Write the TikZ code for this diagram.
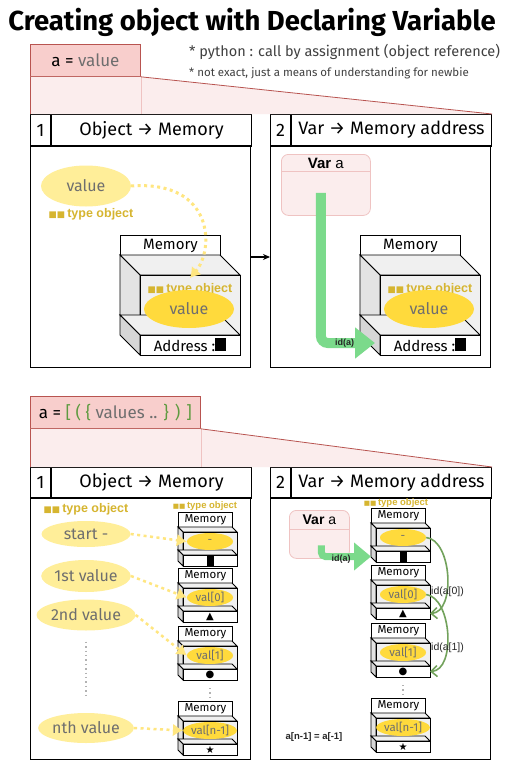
\documentclass[tikz,border=0pt]{standalone}
\usepackage{fontspec}
\setmainfont{Fira Sans}
\newfontfamily\arialfont{Liberation Sans}
\newfontfamily\symfont{DejaVu Sans}
\usetikzlibrary{positioning,calc,arrows.meta,shapes.geometric}

\definecolor{pinkfill}{HTML}{F8CECC}
\definecolor{pinkline}{HTML}{B85450}
\definecolor{pinklight}{HTML}{FBEDED}
\definecolor{pinkedge}{HTML}{EFC3C2}
\definecolor{yelpale}{HTML}{FFEE99}
\definecolor{yeldeep}{HTML}{FFDA3C}
\definecolor{yelflow}{HTML}{FFE680}
\definecolor{goldtext}{HTML}{D6B530}
\definecolor{valgray}{HTML}{6E6E6E}
\definecolor{idgreen}{HTML}{7BDA8B}
\definecolor{refgreen}{HTML}{72A25C}
\definecolor{codegreen}{HTML}{5E9A40}
\definecolor{memtop}{HTML}{F0F0F0}
\definecolor{memside}{HTML}{E3E3E3}
\definecolor{memdark}{HTML}{D6D6D6}

\newcommand{\fs}[1]{\fontsize{#1}{#1}\selectfont}
\newcommand{\TypeTag}{\scalebox{0.7}{\symfont ■■}\,type object}

% memory drawer: name, x, y (label top left), width, depth, label h, drawer h, base h, font size
\newcommand{\MemBlock}[9]{%
	\pgfmathsetmacro\mbA{#3+#6}%
	\pgfmathsetmacro\mbB{\mbA+#5}%
	\pgfmathsetmacro\mbC{\mbA+#7}%
	\pgfmathsetmacro\mbD{\mbC+#5}%
	\pgfmathsetmacro\mbE{\mbD+#8}%
	\pgfmathsetmacro\mbL{#2+#5}%
	\pgfmathsetmacro\mbR{#2+#4}%
	\pgfmathsetmacro\mbF{\mbL+#4}%
	\node[memlabel, font=\fs{#9}, minimum width=#4pt, minimum height=#6pt, anchor=north west] (#1-lbl) at (#2,#3) {Memory};
	\filldraw[memline, fill=memtop] (#2,\mbA) -- (\mbR,\mbA) -- (\mbF,\mbB) -- (\mbL,\mbB) -- cycle;
	\filldraw[memline, fill=memside] (#2,\mbA) -- (\mbL,\mbB) -- (\mbL,\mbD) -- (#2,\mbC) -- cycle;
	\filldraw[memline, fill=memtop] (\mbL,\mbB) rectangle (\mbF,\mbD);
	\filldraw[memline, fill=memtop] (#2,\mbC) -- (\mbR,\mbC) -- (\mbF,\mbD) -- (\mbL,\mbD) -- cycle;
	\filldraw[memline, fill=memdark] (#2,\mbC) -- (\mbL,\mbD) -- (\mbL,\mbE) -- (#2,{\mbC+#8}) -- cycle;
	\filldraw[memline, fill=white] (\mbL,\mbD) rectangle (\mbF,\mbE);
	\coordinate (#1-box) at ({(\mbL+\mbF)/2},{(\mbB+\mbD)/2});
	\coordinate (#1-base) at ({(\mbL+\mbF)/2},{(\mbD+\mbE)/2});
	\coordinate (#1-basew) at (\mbL,{(\mbD+\mbE)/2});
	\coordinate (#1-basee) at (\mbF,{(\mbD+\mbE)/2});
	\coordinate (#1-bot) at ({(\mbL+\mbF)/2},\mbE);
}

\tikzset{
	headcell/.style={draw, line width=1pt, fill=white, minimum height=31pt, inner sep=0pt, font=\fs{18}},
	panel/.style={draw, line width=1pt, fill=white, minimum width=220pt, inner sep=0pt},
	codebox/.style={draw=pinkline, fill=pinkfill, line width=0.8pt, inner sep=0pt, font=\fs{17}},
	paleval/.style={ellipse, fill=yelpale, inner sep=0pt, text=valgray, font=\fs{16}},
	deepval/.style={ellipse, fill=yeldeep, inner sep=0pt, text=valgray, font=\fs{16}},
	typetag/.style={text=goldtext, inner sep=0pt, font=\arialfont\bfseries\fs{12.5}},
	memlabel/.style={draw, line width=0.9pt, fill=white, inner sep=0pt},
	memline/.style={draw=black, line width=0.9pt},
	varbox/.style={draw=pinkedge, fill=pinklight, rounded corners=7pt, line width=0.8pt, inner sep=0pt},
	yflow/.style={draw=yelflow, line width=3pt, dash pattern=on 3pt off 3.5pt, -{Latex[length=10pt,width=13pt]}},
	idflow/.style={draw=idgreen, line width=10pt, rounded corners=7pt, -{Triangle[length=20pt,width=30pt]}},
	refflow/.style={draw=refgreen, line width=1.6pt, -{Straight Barb[length=6pt,width=11pt]}},
	idlabel/.style={inner sep=0pt, text=black!85, font=\arialfont\bfseries\fs{9}},
	vdots/.style={draw=gray!60, line width=1.4pt, dash pattern=on 1.4pt off 3pt},
	small/.style={font=\symfont\fs{10}, inner sep=0pt}
}

\begin{document}
\begin{tikzpicture}[x=1pt, y=-1pt]
	\useasboundingbox (0,0) rectangle (521,760);
	\fill[white] (0,0) rectangle (521,760);

	% Title and notes
	\node[font=\bfseries\fs{27.5}] (ttl) at (252,22) {Creating object with Declaring Variable};
	\node[anchor=west, inner sep=0pt, text=black!75, font=\fs{14.5}] (n1) at (189,52) {* python : call by assignment (object reference)};
	\node[anchor=west, inner sep=0pt, text=black!75, font=\fs{11.5}] (n2) at (189,73) {* not exact, just a means of understanding for newbie};

	% Define nodes : top part
	\node[codebox, minimum width=110pt, minimum height=32pt, anchor=north west] (ca) at (30,44) {a = {\color{valgray}value}};
	\node[headcell, minimum width=20pt, anchor=north west] (t1n) at (30,114) {1};
	\node[headcell, minimum width=200pt, anchor=north west] (t1h) at (t1n.north east) {Object → Memory};
	\node[headcell, minimum width=20pt, anchor=north west] (t2n) at (270,114) {2};
	\node[headcell, minimum width=200pt, anchor=north west] (t2h) at (t2n.north east) {Var → Memory address};

	\fill[pinklight] (ca.south west) -- (ca.south east) -- (t2h.north east) -- (t1n.north west) -- cycle;
	\draw[pinkedge] (ca.south east) -- (ca.south east |- t1n.north);
	\draw[pinkline, line width=0.8pt] (ca.south west) -- (t1n.north west);
	\draw[pinkline, line width=0.8pt] (ca.south east) -- (t2h.north east);

	\node[panel, minimum height=221pt, anchor=north west] (t1b) at (t1n.south west) {};
	\node[panel, minimum height=221pt, anchor=north west] (t2b) at (t2n.south west) {};
	\draw[line width=1.8pt] (t1n.south west) -- (t1h.south east);
	\draw[line width=1.8pt] (t2n.south west) -- (t2h.south east);

	% panel 1
	\node[paleval, minimum width=90pt, minimum height=41pt] (v) at (86,186) {value};
	\node[typetag] (vt) at (91,214) {\TypeTag};
	\MemBlock{m}{120}{235}{100}{20}{20}{60}{20}{15}
	\node[typetag] (mt) at (190,289) {\TypeTag};
	\node[deepval, minimum width=90pt, minimum height=38pt] (mv) at (189,309) {value};
	\node[inner sep=0pt, font=\fs{15}] (ma) at (m-base) {Address :\rule{11pt}{13pt}};

	% panel 2
	\node[varbox, minimum width=89pt, minimum height=61pt, anchor=north west] (va) at (281,154) {};
	\draw[pinkedge, line width=0.8pt] ($(va.north west)+(0,17)$) -- ($(va.north east)+(0,17)$);
	\node[inner sep=0pt, font=\arialfont\fs{15}] (vat) at ($(va.north)+(0,9)$) {\textbf{Var} a};
	\MemBlock{mm}{360}{235}{100}{20}{20}{60}{20}{15}
	\node[typetag] (mmt) at (430,289) {\TypeTag};
	\node[deepval, minimum width=90pt, minimum height=38pt] (mmv) at (429,309) {value};
	\node[inner sep=0pt, font=\fs{15}] (mma) at (mm-base) {Address :\rule{11pt}{13pt}};

	% Connect the nodes
	\draw[yflow] (v.east) .. controls (215,180) and (214,250) .. ($(mt.north)+(0,-5)$);
	\draw[-{Stealth[length=7pt,width=6pt]}, line width=1.4pt] (t1b.east) -- (t2b.west);
	\draw[idflow] ($(va.center)+(-5,8)$) |- ($(mm-basew)+(-5,-2)$) node[idlabel, pos=0.72] {id(a)};

	% Define nodes : bottom part
	\node[codebox, minimum width=170pt, minimum height=32pt, anchor=north west] (cb) at (30,396)
		{a = {\color{codegreen}[ ( \{} {\color{valgray}values ..} {\color{codegreen}\} ) ]}};
	\node[headcell, minimum width=20pt, minimum height=30pt, anchor=north west] (b1n) at (30,467) {1};
	\node[headcell, minimum width=200pt, minimum height=30pt, anchor=north west] (b1h) at (b1n.north east) {Object → Memory};
	\node[headcell, minimum width=20pt, minimum height=30pt, anchor=north west] (b2n) at (270,467) {2};
	\node[headcell, minimum width=200pt, minimum height=30pt, anchor=north west] (b2h) at (b2n.north east) {Var → Memory address};

	\fill[pinklight] (cb.south west) -- (cb.south east) -- (b2h.north east) -- (b1n.north west) -- cycle;
	\draw[pinkedge] (cb.south east) -- (cb.south east |- b1n.north);
	\draw[pinkline, line width=0.8pt] (cb.south west) -- (b1n.north west);
	\draw[pinkline, line width=0.8pt] (cb.south east) -- (b2h.north east);

	\node[panel, minimum height=261pt, anchor=north west] (b1b) at (b1n.south west) {};
	\node[panel, minimum height=261pt, anchor=north west] (b2b) at (b2n.south west) {};
	\draw[line width=1.8pt] (b1n.south west) -- (b1h.south east);
	\draw[line width=1.8pt] (b2n.south west) -- (b2h.south east);

	% panel 1
	\node[typetag] (st) at (86,509) {\TypeTag};
	\node[paleval, minimum width=89pt, minimum height=26pt] (s0) at (86,534) {start -};
	\node[paleval, minimum width=89pt, minimum height=32pt] (s1) at (86,576) {1st value};
	\node[paleval, minimum width=89pt, minimum height=31pt] (s2) at (86,615) {2nd value};
	\node[paleval, minimum width=89pt, minimum height=30pt] (sn) at (86,728) {nth value};
	\draw[vdots, shorten <=11pt, shorten >=16pt] (s2.south) -- (sn.north);

	\node[typetag, font=\arialfont\bfseries\fs{9.5}] (kt) at (205,506) {\TypeTag};
	\MemBlock{k0}{178}{512}{54}{5}{15}{23}{11}{11.5}
	\MemBlock{k1}{178}{568}{54}{5}{15}{23}{11}{11.5}
	\MemBlock{k2}{178}{626}{54}{5}{15}{23}{11}{11.5}
	\MemBlock{k3}{178}{701}{54}{5}{15}{23}{11}{11.5}
	\node[deepval, minimum width=46pt, minimum height=17pt, font=\fs{11.5}] (k0v) at ($(k0-box)+(0,-2)$) {-};
	\node[deepval, minimum width=46pt, minimum height=17pt, font=\fs{11.5}] (k1v) at ($(k1-box)+(0,-2)$) {val[0]};
	\node[deepval, minimum width=46pt, minimum height=17pt, font=\fs{11.5}] (k2v) at ($(k2-box)+(0,-2)$) {val[1]};
	\node[deepval, minimum width=46pt, minimum height=17pt, font=\fs{11.5}] (k3v) at ($(k3-box)+(0,-2)$) {val[n-1]};
	\node[small] at (k0-base) {\rule{7pt}{10pt}};
	\node[small] at (k1-base) {▲};
	\node[small] at (k2-base) {●};
	\node[small] at (k3-base) {★};
	\draw[vdots, shorten <=8pt, shorten >=4pt] (k2-bot) -- (k2-bot |- k3-lbl.north);

	% panel 2
	\node[typetag, font=\arialfont\bfseries\fs{9.5}] (qt) at (396,503) {\TypeTag};
	\node[varbox, minimum width=60pt, minimum height=48pt, anchor=north west] (vb) at (289,510) {};
	\draw[pinkedge, line width=0.8pt] ($(vb.north west)+(0,19)$) -- ($(vb.north east)+(0,19)$);
	\node[inner sep=0pt, font=\arialfont\fs{14}] (vbt) at ($(vb.north)+(0,10)$) {\textbf{Var} a};
	\MemBlock{q0}{371}{508}{54}{5}{15}{23}{11}{11.5}
	\MemBlock{q1}{371}{565}{54}{5}{15}{23}{11}{11.5}
	\MemBlock{q2}{371}{623}{54}{5}{15}{23}{11}{11.5}
	\MemBlock{q3}{371}{698}{54}{5}{15}{23}{11}{11.5}
	\node[deepval, minimum width=46pt, minimum height=17pt, font=\fs{11.5}] (q0v) at ($(q0-box)+(0,-2)$) {-};
	\node[deepval, minimum width=46pt, minimum height=17pt, font=\fs{11.5}] (q1v) at ($(q1-box)+(0,-2)$) {val[0]};
	\node[deepval, minimum width=46pt, minimum height=17pt, font=\fs{11.5}] (q2v) at ($(q2-box)+(0,-2)$) {val[1]};
	\node[deepval, minimum width=46pt, minimum height=17pt, font=\fs{11.5}] (q3v) at ($(q3-box)+(0,-2)$) {val[n-1]};
	\node[small] at (q0-base) {\rule{7pt}{10pt}};
	\node[small] at (q1-base) {▲};
	\node[small] at (q2-base) {●};
	\node[small] at (q3-base) {★};
	\draw[vdots, shorten <=8pt, shorten >=4pt] (q2-bot) -- (q2-bot |- q3-lbl.north);
	\node[idlabel, font=\arialfont\bfseries\fs{9.5}] (nn) at (314,737) {a[n-1] = a[-1]};

	% Connect the nodes
	\draw[yflow, line width=2.5pt] (s0.east) -- (k0v.west);
	\draw[yflow, line width=2.5pt] (s1.east) -- (k1v.west);
	\draw[yflow, line width=2.5pt] (s2.east) -- (k2v.west);
	\draw[yflow, line width=2.5pt] (sn.east) -- (k3v.west);
	\draw[idflow, line width=7pt, rounded corners=4pt, -{Triangle[length=17pt,width=27pt]}]
		($(vb.center)+(2,11)$) |- ($(q0-basew)+(-5,0)$);
	\node[idlabel] (ida) at (341,559) {id(a)};
	\draw[refflow] (q0v.east) .. controls (452,540) and (456,612) .. (q1-basee);
	\draw[refflow] (q1v.east) .. controls (452,598) and (456,670) .. (q2-basee);
	\node[idlabel, font=\arialfont\fs{10.5}, anchor=west] (id0) at (431,592) {id(a[0])};
	\node[idlabel, font=\arialfont\fs{10.5}, anchor=west] (id1) at (431,648) {id(a[1])};
\end{tikzpicture}
\end{document}
